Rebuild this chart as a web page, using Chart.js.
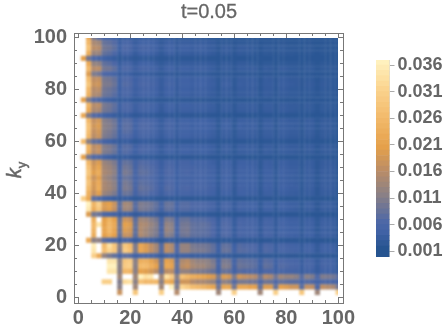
<!DOCTYPE html>
<html lang="en">
<head>
    <meta charset="UTF-8">
    <title>t=0.05</title>
    <script src="https://cdn.jsdelivr.net/npm/chart.js"></script>
    <style>
        body { margin: 0; background: #fff; }
        canvas { position: absolute; top: 0; left: 0; }
        #heatClip { position: absolute; left: 78px; top: 38px; width: 260px; height: 260px; overflow: hidden; }
        #heatChart { left: -78px; top: -38px; filter: blur(1.2px); }
        #barChart { left: 360px; }
        #title { position: absolute; left: 109px; width: 200px; top: 0; text-align: center; font: 20px/22px "Liberation Sans"; color: #666; -webkit-text-stroke: 0.3px #666; }
        #kLabel { position: absolute; left: 3px; top: 158px; width: 22px; text-align: center;
                  transform: rotate(-90deg); font: 20px/24px "Liberation Sans"; color: #666; -webkit-text-stroke: 0.5px #666; white-space: nowrap; }
        #kLabel sub { font-size: 13px; line-height: 0; }
    </style>
</head>

<body>
    <div id="heatClip"><canvas id="heatChart" width="446" height="330"></canvas></div>
    <canvas id="frameChart" width="446" height="330"></canvas>
    <canvas id="barChart" width="86" height="330"></canvas>
    <div id="title">t=0.05</div>
    <div id="kLabel"><i>k</i><sub>y</sub></div>

    <script>
        // grid positions along kx, and along ky from the top row down
        const kx = [2,4,6,8,10,12,14,16,18,20,22,24,26,28,30,32,34,36,38,40,42,44,46,48,50,52,54,56,58,60,62,64,66,68,70,72,74,76,78,80,82,84,86,88,90,92,94,96,98,100];
        const ky = [100,98,96,94,92,90,88,86,84,82,80,78,76,74,72,70,68,66,64,62,60,58,56,54,52,50,48,46,44,42,40,38,36,34,32,30,28,26,24,22,20,18,16,14,12,10,8,6,4,2];

        // values, in units of 0.0001; 400 is off the scale (white)
        const zRows = [
            [400,220,100,70,50,45,38,26,32,32,24,28,28,28,26,20,24,24,20,22,22,20,20,20,18,16,14,15,15,14,15,15,15,15,14,14,14,14,14,14,14,14,14,14,14,14,14,14,14,14],
            [400,250,140,130,80,75,65,34,50,48,32,42,42,40,36,26,34,34,26,32,32,30,30,30,28,26,18,22,22,17,22,22,22,20,15,18,18,15,17,17,16,16,15,15,15,14,15,15,15,14],
            [400,270,155,150,90,85,72,38,58,54,36,48,48,44,40,28,40,40,28,38,38,34,36,36,32,30,20,28,28,20,28,28,26,24,17,24,24,17,24,22,20,20,16,20,20,16,18,17,16,14],
            [400,230,125,125,78,72,60,32,48,46,30,40,40,38,34,24,34,36,24,32,32,28,30,30,30,26,18,26,26,18,26,24,24,20,16,22,20,16,20,20,20,18,16,18,18,15,18,16,15,14],
            [200,90,60,50,40,35,30,22,26,26,20,24,24,22,20,17,19,19,17,18,18,17,17,17,17,16,15,15,15,15,15,15,15,15,15,15,15,15,15,15,15,15,15,15,15,15,15,15,15,14],
            [400,220,120,115,76,70,58,32,46,46,30,40,40,38,32,24,32,32,24,30,30,28,28,28,28,26,18,26,26,18,26,26,24,22,16,22,22,16,22,22,20,20,16,20,20,16,20,18,17,14],
            [400,250,150,155,90,88,74,38,58,56,36,48,48,44,40,28,40,40,28,38,38,34,36,36,34,30,20,30,30,20,30,30,28,28,18,28,26,18,28,28,24,24,18,24,24,17,22,22,20,15],
            [400,190,100,90,58,54,46,28,36,34,26,30,30,28,26,20,26,26,20,26,26,24,24,24,24,20,17,20,20,17,20,20,20,20,16,19,19,16,18,18,17,17,16,17,17,15,17,16,15,14],
            [400,260,160,165,95,92,78,40,60,58,38,50,50,46,42,30,42,42,30,40,40,36,38,38,36,32,22,32,32,22,32,32,30,30,19,30,28,19,30,30,26,26,19,24,24,17,24,24,22,15],
            [400,280,170,175,100,98,84,42,64,62,40,54,54,48,44,30,46,46,30,42,42,38,40,40,36,34,22,36,36,22,34,32,32,32,20,30,30,20,32,32,28,26,19,26,26,18,26,24,22,15],
            [400,250,150,155,90,84,74,38,56,56,36,46,48,44,40,28,40,40,28,38,38,34,36,36,34,30,20,30,30,20,30,30,28,28,18,28,28,18,28,28,24,24,18,24,24,17,24,22,20,15],
            [400,235,145,140,86,80,68,36,54,52,34,44,44,42,38,26,38,38,26,36,36,32,34,34,32,28,20,28,28,20,28,28,28,28,18,28,26,18,26,26,24,24,18,22,22,17,22,22,20,15],
            [200,100,65,55,42,36,32,24,28,28,21,24,24,24,22,18,20,20,18,20,20,19,19,19,19,17,15,16,16,15,16,16,16,16,15,16,16,15,16,16,16,16,15,15,15,15,15,15,15,14],
            [400,240,150,155,96,88,74,38,58,56,36,48,48,44,40,28,40,42,28,38,38,36,36,36,34,32,20,32,32,20,32,32,30,30,19,30,30,19,28,28,26,26,18,26,24,17,24,24,22,15],
            [400,220,140,140,90,84,70,36,54,54,34,46,46,42,38,26,38,38,26,36,36,34,34,34,32,30,20,30,30,20,30,30,28,28,18,28,28,18,28,28,26,24,18,24,24,17,24,22,20,15],
            [220,100,65,58,42,38,32,24,30,28,21,26,26,24,22,18,21,21,18,20,20,19,19,19,19,17,15,16,16,15,16,16,16,16,15,16,16,15,16,16,16,16,15,16,16,15,16,15,15,14],
            [400,250,165,180,105,98,84,42,66,64,40,54,54,50,44,30,46,46,30,42,42,38,38,40,38,34,22,34,34,22,34,34,32,32,20,32,32,20,32,32,28,28,19,28,28,18,26,26,24,16],
            [400,270,175,190,110,104,90,44,70,68,42,60,60,54,46,32,48,48,32,44,44,38,40,40,40,36,22,38,38,22,38,34,34,34,20,34,34,20,32,32,30,28,20,28,28,18,28,26,24,16],
            [400,265,165,180,105,98,84,42,68,66,40,56,56,52,46,32,46,46,32,42,42,38,38,38,38,34,22,34,34,22,34,34,32,32,20,32,32,20,32,32,28,28,19,28,28,18,26,26,24,16],
            [400,250,155,170,100,92,78,40,60,58,38,52,52,46,42,30,42,44,30,40,40,36,36,36,36,32,22,32,32,22,32,32,30,30,20,30,30,20,30,30,26,26,19,26,26,17,26,24,22,15],
            [260,110,75,68,48,42,34,25,32,30,22,28,28,26,24,19,24,24,19,22,22,21,21,21,21,19,16,18,18,16,18,18,18,18,15,18,18,15,18,18,17,17,15,17,17,15,16,16,16,14],
            [400,240,155,165,105,98,84,42,66,64,40,54,54,52,44,30,44,44,30,42,42,38,38,38,38,34,22,34,34,22,34,34,32,32,20,32,32,20,32,32,28,28,20,28,28,18,28,26,24,16],
            [400,225,150,165,100,94,80,40,64,60,38,54,52,46,42,30,42,42,30,40,40,36,36,38,36,32,22,32,32,22,32,32,32,30,20,32,30,20,30,30,28,26,19,26,26,18,26,26,24,16],
            [200,90,60,58,42,36,30,24,28,26,21,24,24,24,22,18,20,20,18,19,19,19,19,19,19,17,15,16,16,15,16,16,16,16,15,16,16,15,16,16,16,16,15,16,16,15,16,15,15,14],
            [400,250,170,190,125,115,98,48,78,74,46,64,62,56,50,34,52,52,34,48,48,42,44,44,42,36,24,40,40,24,38,38,34,34,22,36,34,22,34,34,30,30,20,30,30,19,28,28,26,16],
            [400,270,185,210,135,125,108,52,88,82,48,70,66,62,54,36,56,56,36,52,52,48,46,46,44,42,26,42,42,26,42,40,38,36,22,38,36,22,36,36,32,32,22,32,30,19,30,30,28,17],
            [400,280,195,225,140,130,112,54,96,88,52,74,72,64,56,38,58,58,38,52,54,46,50,50,46,42,26,44,44,26,42,42,38,38,24,38,38,24,38,36,34,32,22,32,32,19,32,30,28,17],
            [400,255,170,195,130,118,102,50,82,76,48,64,64,60,52,34,52,52,34,46,46,44,44,44,42,40,24,40,40,24,40,38,36,36,22,36,36,22,34,34,32,30,22,30,30,19,30,28,26,16],
            [400,275,185,220,140,128,112,54,94,86,52,72,68,64,56,38,58,58,38,52,52,46,50,50,46,42,26,44,44,26,42,42,38,38,24,38,38,24,36,36,34,32,22,32,32,19,32,30,28,17],
            [400,255,180,225,140,130,114,56,98,92,54,78,74,68,60,40,64,62,40,56,58,50,52,52,48,44,26,46,44,26,44,42,38,38,24,40,38,24,38,38,34,34,22,32,32,19,32,32,28,17],
            [400,235,165,195,125,115,98,50,84,80,48,68,68,60,54,36,56,56,36,50,50,44,44,44,44,40,24,40,40,24,40,40,36,36,22,36,36,22,34,34,32,30,22,30,30,19,30,28,26,16],
            [300,220,70,62,42,38,32,26,30,28,22,26,26,24,22,18,21,21,18,20,20,19,19,19,19,18,15,18,18,15,17,17,17,17,15,17,17,15,16,16,16,16,15,16,16,15,16,15,15,14],
            [400,360,240,300,190,200,170,72,135,130,68,100,95,88,76,46,80,78,44,66,66,58,58,58,54,48,28,50,48,28,46,44,42,40,24,42,40,24,40,38,34,34,22,34,32,19,32,32,30,17],
            [400,345,225,280,185,195,165,70,130,125,66,96,92,84,72,44,76,74,44,64,64,56,56,56,52,46,28,48,46,28,44,42,40,40,24,40,40,24,38,38,34,32,22,32,32,19,32,30,28,17],
            [400,190,90,85,56,52,44,30,38,36,26,32,32,30,28,20,28,28,20,24,24,22,22,22,22,20,16,19,19,16,19,18,18,18,15,18,18,15,17,17,17,17,15,16,16,15,16,15,15,14],
            [400,400,230,370,200,240,205,80,175,165,74,130,125,108,94,52,100,94,48,80,82,68,66,66,62,54,30,56,54,30,50,48,46,44,26,46,44,26,42,40,36,36,24,34,34,22,34,32,30,18],
            [400,400,250,340,205,250,220,86,200,190,80,145,140,122,106,56,118,110,50,90,92,76,72,74,70,60,32,62,60,30,54,50,48,46,28,48,46,26,44,42,38,38,24,36,36,22,36,34,32,18],
            [400,400,240,380,210,250,210,84,190,180,76,145,130,114,100,54,122,112,50,92,94,76,72,72,68,58,32,60,58,30,52,50,48,46,26,48,46,26,42,42,38,38,24,36,34,22,34,32,30,18],
            [400,400,225,400,200,230,200,80,170,165,72,145,130,110,96,54,110,100,48,86,90,74,72,70,68,58,32,62,60,32,54,52,50,48,28,50,48,28,46,44,40,38,26,38,38,24,36,34,32,18],
            [400,220,110,115,68,60,54,32,50,48,30,42,40,36,32,22,32,32,22,28,28,26,26,26,26,24,18,22,22,18,21,21,20,20,16,20,20,16,18,18,18,18,16,17,17,15,17,16,16,14],
            [400,400,350,400,255,330,280,110,280,255,100,215,190,160,135,66,160,145,58,122,122,96,90,90,86,74,38,76,74,38,66,62,60,58,32,60,56,32,50,48,44,42,28,42,40,26,40,38,34,20],
            [400,400,340,400,265,310,280,100,290,265,100,215,190,160,135,66,160,145,60,122,122,100,96,96,88,76,38,80,78,40,68,66,62,60,32,62,58,32,52,50,46,44,30,44,42,26,40,38,36,20],
            [400,400,300,220,120,95,76,48,70,66,40,54,52,46,42,28,42,42,28,38,38,32,32,32,32,28,20,26,26,20,24,24,24,22,17,22,22,17,20,20,19,19,16,18,18,16,18,17,17,15],
            [400,400,400,400,400,340,340,110,280,290,110,230,235,210,180,84,205,190,72,145,155,130,118,118,112,96,48,96,92,46,78,74,72,68,38,70,66,38,58,56,52,50,32,48,46,28,46,44,40,22],
            [400,400,400,400,400,360,360,110,290,300,110,255,255,230,205,84,215,205,76,155,165,140,130,130,116,104,50,104,100,48,84,80,76,72,38,76,72,38,64,62,56,54,34,52,50,30,48,46,42,24],
            [400,400,400,400,400,340,340,110,250,245,110,205,195,180,155,80,155,155,72,118,118,104,100,96,90,80,46,80,76,44,68,62,62,60,38,60,58,38,52,50,48,46,32,44,42,28,42,40,38,26],
            [400,400,400,400,400,400,400,130,400,400,130,360,330,340,370,130,330,290,110,270,250,230,220,210,195,185,100,190,180,100,175,165,155,150,90,150,140,90,130,120,120,110,70,110,100,60,100,96,90,70],
            [400,400,400,400,300,300,400,100,320,330,110,270,250,250,250,110,230,210,90,175,175,150,140,140,130,120,70,115,105,65,95,95,88,88,60,88,84,60,78,74,70,70,50,66,60,44,60,56,50,40],
            [400,400,400,400,400,400,400,110,400,400,130,400,400,400,400,130,380,360,100,310,290,260,250,240,225,210,90,210,210,90,215,215,200,200,80,190,190,80,200,190,175,175,70,165,160,60,160,150,140,90],
            [400,400,400,400,400,400,400,170,400,400,280,400,400,400,400,300,400,400,150,400,400,400,400,400,400,400,130,400,400,300,400,400,400,400,130,400,400,300,400,400,400,400,280,400,400,130,400,400,400,300]
        ];

        const xMajor = [0, 20, 40, 60, 80, 100];
        const xMinor = [0, 5, 10, 15, 20, 25, 30, 35, 40, 45, 50, 55, 60, 65, 70, 75, 80, 85, 90, 95, 100];
        const barLevels = [0,0.001,0.002,0.003,0.004,0.005,0.006,0.007,0.008,0.009,0.01,0.011,0.012,0.013,0.014,0.015,0.016,0.017,0.018,0.019,0.02,0.021,0.022,0.023,0.024,0.025,0.026,0.027,0.028,0.029,0.03,0.031,0.032,0.033,0.034,0.035,0.036];
        const barTicks = [0.001, 0.006, 0.011, 0.016, 0.021, 0.026, 0.031, 0.036];

        const colorStops = [
            [0.001, [38, 84, 144]],
            [0.004, [64, 98, 165]],
            [0.006, [78, 104, 166]],
            [0.011, [138, 128, 134]],
            [0.016, [190, 142, 100]],
            [0.020, [229, 160, 74]],
            [0.026, [243, 188, 110]],
            [0.031, [251, 212, 143]],
            [0.036, [255, 241, 190]]
        ];

        function colorOf(v) {
            if (v > 0.0365) return '#ffffff';
            if (v <= colorStops[0][0]) return 'rgb(' + colorStops[0][1].join(',') + ')';
            for (let i = 1; i < colorStops.length; i++) {
                if (v <= colorStops[i][0]) {
                    const [a, ca] = colorStops[i - 1];
                    const [b, cb] = colorStops[i];
                    const t = (v - a) / (b - a);
                    return 'rgb(' + ca.map((c, n) => Math.round(c + (cb[n] - c) * t)).join(',') + ')';
                }
            }
            return 'rgb(255,241,190)';
        }

        const points = [];
        const pointColors = [];
        zRows.forEach((row, j) => {
            row.forEach((z, i) => {
                points.push({ x: kx[i], y: ky[j] });
                pointColors.push(colorOf(z / 10000));
            });
        });

        const greyText = '#666666';
        const frameColor = '#777777';
        const tickFont = { family: 'Liberation Sans', size: 20, weight: 'bold' };
        const xRange = { min: -1.65, max: 101.8 };
        const yRange = { min: -2.1, max: 101.8 };
        const plotPadding = { left: 74, right: 103, top: 33, bottom: 27 };

        // heat cells only, blurred a little by the css, scales match the frame chart below
        new Chart(document.getElementById('heatChart'), {
            type: 'scatter',
            data: {
                datasets: [{
                    data: points,
                    pointStyle: 'rect',
                    pointRadius: 3.85,
                    pointBorderWidth: 0,
                    pointBackgroundColor: pointColors,
                    clip: false
                }]
            },
            options: {
                responsive: false,
                animation: false,
                events: [],
                layout: { padding: plotPadding },
                plugins: { legend: { display: false }, tooltip: { enabled: false } },
                scales: {
                    x: Object.assign({ type: 'linear', display: false }, xRange),
                    y: Object.assign({ type: 'linear', display: false }, yRange)
                }
            }
        });

        // one axis of the frame; the major and minor tick marks need separate axes
        function frameAxis(position, values, len, opts) {
            const horizontal = position === 'bottom' || position === 'top';
            return Object.assign({
                type: 'linear',
                position: position,
                weight: 0,
                afterBuildTicks: s => { s.ticks = values.map(v => ({ value: v })); },
                afterFit: s => { if (horizontal) s.height = 0; else s.width = 0; },
                grid: { drawOnChartArea: false, drawTicks: true, tickLength: -len, tickColor: frameColor, tickWidth: 1, z: 1 },
                border: { display: true, color: frameColor, width: 1, z: 1 },
                ticks: { display: false, autoSkip: false, maxRotation: 0 }
            }, horizontal ? xRange : yRange, opts || {});
        }

        new Chart(document.getElementById('frameChart'), {
            type: 'scatter',
            data: { datasets: [{ data: [], xAxisID: 'x', yAxisID: 'y' }] },
            options: {
                responsive: false,
                animation: false,
                events: [],
                layout: { padding: { left: 0, right: plotPadding.right, top: plotPadding.top, bottom: 0 } },
                plugins: { legend: { display: false }, tooltip: { enabled: false } },
                scales: {
                    x: frameAxis('bottom', xMajor, 5, {
                        weight: 1,
                        afterFit: s => { s.height = plotPadding.bottom; },
                        ticks: { display: true, autoSkip: false, maxRotation: 0, color: greyText, font: tickFont, padding: 8 }
                    }),
                    xm: frameAxis('bottom', xMinor, 3),
                    xt: frameAxis('top', xMajor, 5),
                    xtm: frameAxis('top', xMinor, 3),
                    y: frameAxis('left', xMajor, 5, {
                        weight: 1,
                        afterFit: s => { s.width = plotPadding.left; },
                        ticks: { display: true, autoSkip: false, color: greyText, font: tickFont, padding: 12 }
                    }),
                    ym: frameAxis('left', xMinor, 3),
                    yr: frameAxis('right', xMajor, 5),
                    yrm: frameAxis('right', xMinor, 3)
                }
            }
        });

        const barDatasets = barLevels.map(lv => ({
            data: [[lv, lv + 0.001]],
            backgroundColor: colorOf(lv),
            barPercentage: 1,
            categoryPercentage: 1,
            grouped: false
        }));
        barDatasets.push({
            data: [[-0.00007, 0.03694]],
            backgroundColor: 'rgba(0,0,0,0)',
            borderColor: '#8f8f80',
            borderWidth: 1,
            barPercentage: 1,
            categoryPercentage: 1,
            grouped: false
        });

        new Chart(document.getElementById('barChart'), {
            type: 'bar',
            data: { labels: [''], datasets: barDatasets },
            options: {
                responsive: false,
                animation: false,
                events: [],
                layout: { padding: { left: 16, right: 0, top: 60, bottom: 73 } },
                plugins: { legend: { display: false }, tooltip: { enabled: false } },
                scales: {
                    x: { display: false },
                    y: {
                        position: 'right',
                        min: -0.00007,
                        max: 0.03694,
                        afterBuildTicks: s => { s.ticks = barTicks.map(v => ({ value: v })); },
                        afterFit: s => { s.width = 56.5; },
                        grid: { drawOnChartArea: false, drawTicks: true, tickLength: 5, tickColor: '#aaaaaa' },
                        border: { display: false },
                        ticks: {
                            autoSkip: false,
                            color: greyText,
                            font: { family: 'Liberation Sans', size: 18, weight: 'bold' },
                            padding: 3,
                            callback: v => v.toFixed(3)
                        }
                    }
                }
            }
        });
    </script>
</body>
</html>
